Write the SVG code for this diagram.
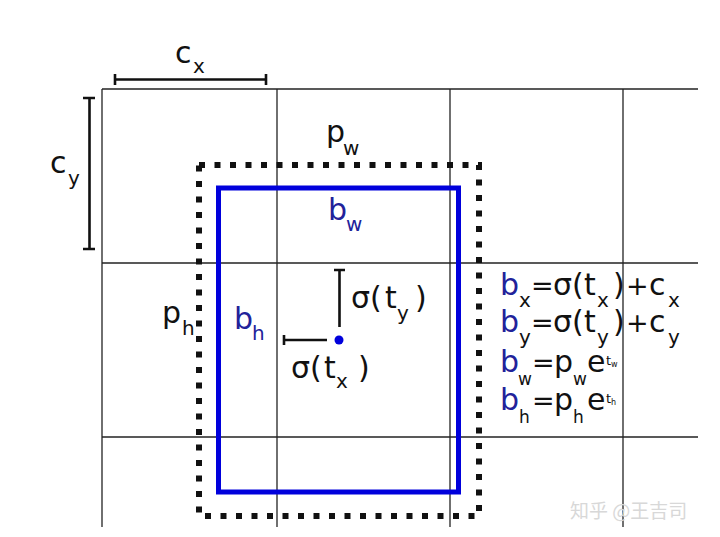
<svg xmlns="http://www.w3.org/2000/svg" width="720" height="537" viewBox="0 0 720 537">
<style>
.grid{stroke:#222;stroke-width:1.3;fill:none}
.bar{stroke:#111;stroke-width:2.6;fill:none}
.t{font-family:"DejaVu Sans","Liberation Sans",sans-serif;font-size:30px;fill:#111}
.b{fill:#22229a}
.s{font-size:20px}
.s2{font-size:17px}
.op{font-size:27px}
.sup{font-size:13px}
.ss{font-size:8px}
</style>
<rect width="720" height="537" fill="#fff"/>
<g id="grid">
<line class="grid" x1="102" y1="89" x2="698" y2="89"/>
<line class="grid" x1="102" y1="263" x2="698" y2="263"/>
<line class="grid" x1="102" y1="437" x2="698" y2="437"/>
<line class="grid" x1="102" y1="89" x2="102" y2="527"/>
<line class="grid" x1="277" y1="89" x2="277" y2="527"/>
<line class="grid" x1="450" y1="89" x2="450" y2="527"/>
<line class="grid" x1="623" y1="89" x2="623" y2="527"/>
</g>
<g id="prior-box">
<rect x="199" y="165" width="280" height="351" fill="none" stroke="#111" stroke-width="6" stroke-dasharray="6 9.5"/>
</g>
<g id="pred-box">
<rect x="218.5" y="188" width="240" height="304" fill="none" stroke="#0000dc" stroke-width="5"/>
</g>
<g id="cx">
<path class="bar" d="M115 79.5H266M115 74V85M266 74V85"/>
<text class="t" x="175" y="63">c<tspan class="s" x="193" y="73">x</tspan></text>
</g>
<g id="cy">
<path class="bar" d="M89.5 98V249M83 98H95M83 249H95"/>
<text class="t" x="50" y="173">c<tspan class="s" x="68" y="185">y</tspan></text>
</g>
<g id="pw"><text class="t" x="326" y="142">p<tspan class="s" x="343" y="155">w</tspan></text></g>
<g id="bw"><text class="t b" x="328" y="220">b<tspan class="s" x="346" y="231">w</tspan></text></g>
<g id="ph"><text class="t" x="162" y="323">p<tspan class="s" x="182" y="335">h</tspan></text></g>
<g id="bh"><text class="t b" x="234" y="329">b<tspan class="s" x="252" y="340">h</tspan></text></g>
<g id="sigma-ty">
<path class="bar" d="M339.5 270V327M334 270H345"/>
<text class="t" x="351" y="308">σ<tspan x="370">(</tspan><tspan x="385">t</tspan><tspan class="s" x="397" y="320">y</tspan><tspan x="415" y="308">)</tspan></text>
</g>
<g id="sigma-tx">
<path class="bar" d="M284 340H327M284 335V345"/>
<text class="t" x="291" y="378">σ<tspan x="310">(</tspan><tspan x="324">t</tspan><tspan class="s" x="336" y="388">x</tspan><tspan x="358" y="378">)</tspan></text>
</g>
<g id="center"><circle cx="339" cy="340" r="4.5" fill="#0000dc"/></g>
<g id="equations">
<text class="t" x="500" y="295"><tspan class="b">b</tspan><tspan class="s" x="519" y="307">x</tspan><tspan class="op" x="531" y="295">=</tspan><tspan x="553">σ</tspan><tspan x="572">(</tspan><tspan x="584">t</tspan><tspan class="s" x="597" y="307">x</tspan><tspan x="613" y="295">)</tspan><tspan class="op" x="626">+</tspan><tspan x="649">c</tspan><tspan class="s" x="668" y="307">x</tspan></text>
<text class="t" x="500" y="332"><tspan class="b">b</tspan><tspan class="s" x="519" y="344">y</tspan><tspan class="op" x="531" y="332">=</tspan><tspan x="553">σ</tspan><tspan x="572">(</tspan><tspan x="584">t</tspan><tspan class="s" x="597" y="344">y</tspan><tspan x="613" y="332">)</tspan><tspan class="op" x="626">+</tspan><tspan x="649">c</tspan><tspan class="s" x="668" y="344">y</tspan></text>
<text class="t" x="500" y="372"><tspan class="b">b</tspan><tspan class="s2" x="518" y="385">w</tspan><tspan class="op" x="532" y="372">=</tspan><tspan x="554">p</tspan><tspan class="s2" x="573" y="385">w</tspan><tspan x="587" y="372">e</tspan><tspan class="sup" x="606" y="365">t</tspan><tspan class="ss" x="611" y="367">w</tspan></text>
<text class="t" x="500" y="410"><tspan class="b">b</tspan><tspan class="s2" x="519" y="423">h</tspan><tspan class="op" x="532" y="410">=</tspan><tspan x="554">p</tspan><tspan class="s2" x="573" y="423">h</tspan><tspan x="587" y="410">e</tspan><tspan class="sup" x="606" y="403">t</tspan><tspan class="ss" x="611" y="405">h</tspan></text>
</g>
<g id="watermark">
<text x="570" y="518" font-family="'Noto Sans CJK SC',sans-serif" font-size="19" fill="#d8d8d8">知乎 @王吉司</text>
</g>
</svg>
